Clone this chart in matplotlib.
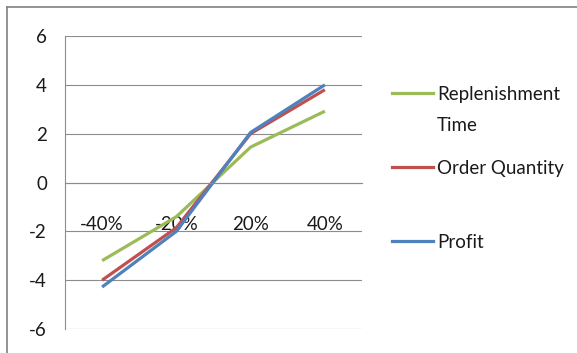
import matplotlib
matplotlib.use("Agg")
import matplotlib.pyplot as plt
from matplotlib.lines import Line2D

# data
categories = ["-40%", "-20%", "20%", "40%"]
replenishment_time = [-3.2, -1.4, 1.45, 2.92]
order_quantity = [-4.0, -1.85, 2.0, 3.8]
profit = [-4.28, -2.0, 2.05, 4.0]
series_names = ["Replenishment\nTime", "Order Quantity", "Profit"]
series_colors = ["#9BBB59", "#C0504D", "#4F81BD"]
y_ticks = [-6, -4, -2, 0, 2, 4, 6]

plt.rcParams['font.family'] = ['Lato', 'DejaVu Sans']

W, H = 577, 353
fig = plt.figure(figsize=(W / 100, H / 100), dpi=100)
ax = fig.add_axes([65 / W, 1 - 329 / H, 297 / W, 293 / H])

x = list(range(len(categories)))
for vals, col in zip([replenishment_time, order_quantity, profit], series_colors):
    ax.plot(x, vals, color=col, linewidth=2.3, solid_capstyle='butt')

ax.set_xlim(-0.5, len(categories) - 0.5)
ax.set_ylim(-6, 6)
ax.set_yticks(y_ticks)
ax.set_yticklabels([str(v) for v in y_ticks])
ax.set_xticks(x)
ax.set_xticklabels(categories)

grid_col = "#8c8c8c"
ax.yaxis.grid(True, color=grid_col, linewidth=0.8)
ax.set_axisbelow(True)
for side in ['top', 'right']:
    ax.spines[side].set_visible(False)
ax.spines['left'].set_color(grid_col)
ax.spines['left'].set_linewidth(0.8)
ax.spines['bottom'].set_position(('data', 0))
ax.spines['bottom'].set_color(grid_col)
ax.spines['bottom'].set_linewidth(0.8)
ax.tick_params(axis='both', length=0, labelsize=13.5, colors='#1a1a1a')
ax.tick_params(axis='y', pad=13)
ax.tick_params(axis='x', pad=24)

# legend drawn by hand, Excel-style with first-line alignment
leg_y = [93, 167, 241]
for name, col, yy in zip(series_names, series_colors, leg_y):
    fig.add_artist(Line2D([392 / W, 433 / W], [1 - yy / H] * 2,
                          color=col, linewidth=2.3, transform=fig.transFigure))
    fig.text(437 / W, 1 - (yy - 7) / H, name, fontsize=13.5, color='#1a1a1a',
             va='top', ha='left', linespacing=2.0)

# outer chart frame (clipped at right and bottom)
frame_col = "#808080"
fig.add_artist(Line2D([7 / W, 1.0], [1 - 7 / H] * 2, color=frame_col,
                      linewidth=1.2, transform=fig.transFigure))
fig.add_artist(Line2D([7 / W] * 2, [1 - 7 / H, 0.0], color=frame_col,
                      linewidth=1.2, transform=fig.transFigure))

fig.savefig("out.png", dpi=100)
